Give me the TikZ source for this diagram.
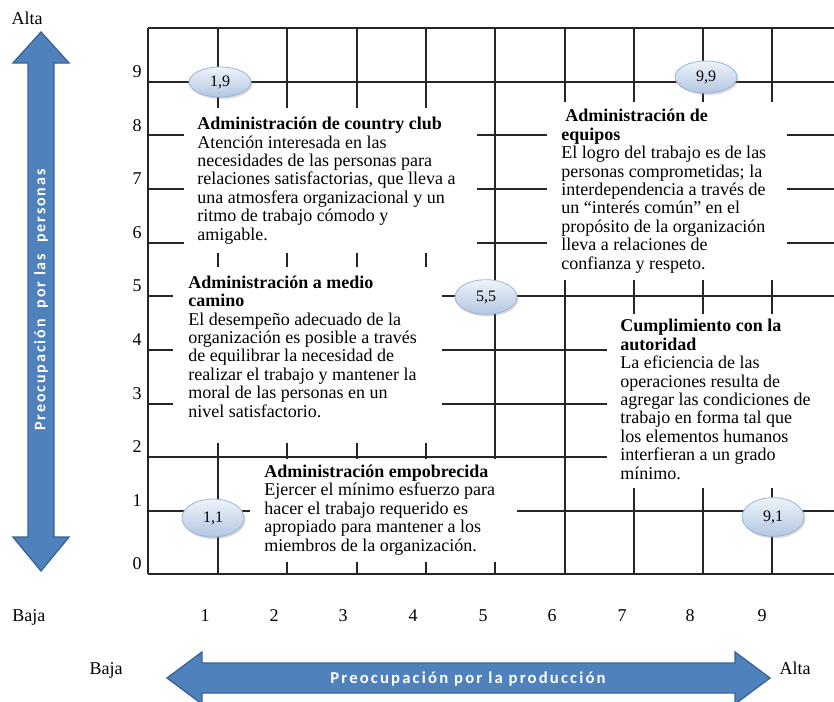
\documentclass[tikz,border=0pt]{standalone}
\usepackage{fontspec}
\setmainfont{Liberation Serif}
\newfontfamily\arrowfontH{Carlito}[LetterSpace=13]
\newfontfamily\arrowfontV{Carlito}[LetterSpace=12]
\usetikzlibrary{shadows,shapes.geometric}
\definecolor{arrowblue}{HTML}{4F81BD}
\definecolor{arrowedge}{HTML}{3A639A}
\definecolor{ellTop}{HTML}{EEF3F9}
\definecolor{ellBot}{HTML}{B3C7E1}
\definecolor{ellEdge}{HTML}{9AB4D6}
\begin{document}
\begin{tikzpicture}[x=0.75pt,y=-0.75pt,
  gridline/.style={line width=1pt, black!85},
  blank/.style={fill=white},
  txt/.style={anchor=base west, inner sep=0pt, align=left, font=\fontsize{13.5}{13.8}\selectfont},
  num/.style={anchor=base, inner sep=0pt, font=\fontsize{13.5}{14}\selectfont},
  pt/.style={ellipse, draw=ellEdge, line width=0.6pt, top color=ellTop, bottom color=ellBot,
    inner sep=0pt, minimum width=46.5pt, font=\fontsize{12}{12}\selectfont,
    drop shadow={opacity=0.3, shadow xshift=1pt, shadow yshift=-1.5pt}},
  bigarrow/.style={fill=arrowblue, draw=arrowedge, line width=1pt, line join=miter},
  arrowtxt/.style={text=white, inner sep=0pt}]
\useasboundingbox (0,0) rectangle (834,701);

% grid
\foreach \x in {148,218,287,357,426,495,565,634,703,772}
  \draw[gridline] (\x,28) -- (\x,574);
\foreach \y in {28,82,135,189,243,296,350,404,457,511,574}
  \draw[gridline] (148,\y) -- (834,\y);

% white text areas
\fill[blank] (184,108) rectangle (477,253);
\fill[blank] (173,267) rectangle (442,443);
\fill[blank] (547,102) rectangle (787,280);
\fill[blank] (607,314) rectangle (840,488);
\fill[blank] (250,458.5) rectangle (517,562);

% points
\node[pt, minimum height=22.5pt] (p19) at (220,82) {1,9};
\node[pt, minimum height=24pt] (p99) at (706,77) {9,9};
\node[pt, minimum height=26pt] (p55) at (486,297) {5,5};
\node[pt, minimum height=28.5pt] (p11) at (213,518) {1,1};
\node[pt, minimum height=29pt] (p91) at (773,517) {9,1};

% texts (anchored at the baseline of their last line)
\node[txt] (tcc) at (197,240) {\textbf{Administración de country club}\\
Atención interesada en las\\
necesidades de las personas para\\
relaciones satisfactorias, que lleva a\\
una atmosfera organizacional y un\\
ritmo de trabajo cómodo y\\
amigable.};

\node[txt] (tmc) at (188,417) {\textbf{Administración a medio}\\
\textbf{camino}\\
El desempeño adecuado de la\\
organización es posible a través\\
de equilibrar la necesidad de\\
realizar el trabajo y mantener la\\
moral de las personas en un\\
nivel satisfactorio.};

\node[txt] (teq) at (561,269) {\hspace{3pt}\textbf{Administración de}\\
\textbf{equipos}\\
El logro del trabajo es de las\\
personas comprometidas; la\\
interdependencia a través de\\
un “interés común” en el\\
propósito de la organización\\
lleva a relaciones de\\
confianza y respeto.};

\node[txt] (tca) at (620,479) {\textbf{Cumplimiento con la}\\
\textbf{autoridad}\\
La eficiencia de las\\
operaciones resulta de\\
agregar las condiciones de\\
trabajo en forma tal que\\
los elementos humanos\\
interfieran a un grado\\
mínimo.};

\node[txt] (tem) at (264,551) {\textbf{Administración empobrecida}\\
Ejercer el mínimo esfuerzo para\\
hacer el trabajo requerido es\\
apropiado para mantener a los\\
miembros de la organización.};

% axis numbers
\foreach \n/\y in {9/77,8/131,7/184,6/238,5/291,4/345,3/399,2/452,1/506,0/569}
  \node[num] (ly\n) at (137,\y) {\n};
\foreach \n/\x in {1/205,2/274,3/343,4/413,5/483,6/552,7/622,8/690,9/762}
  \node[num] (bx\n) at (\x,621) {\n};

\node[num] (altaTop) at (27,24) {Alta};
\node[num, anchor=base west] (bajaA) at (12,621) {Baja};
\node[num] (bajaB) at (106,674) {Baja};
\node[num] (altaR) at (795,674) {Alta};

% arrows
\draw[bigarrow] (41,32) -- (69,63) -- (54,63) -- (54,537) -- (69,537) -- (41,571)
  -- (13,537) -- (28,537) -- (28,63) -- (13,63) -- cycle;
\draw[bigarrow] (167,678) -- (202,652) -- (202,663) -- (735,663) -- (735,652) -- (770,678)
  -- (735,704) -- (735,693) -- (202,693) -- (202,704) -- cycle;

\node[arrowtxt, rotate=90, font=\arrowfontV\bfseries\fontsize{12}{12}\selectfont] (vtxt) at (41,300) {Preocupación\ \ por las\ \ personas};
\node[arrowtxt, font=\arrowfontH\bfseries\fontsize{12.5}{12.5}\selectfont] (htxt) at (468,679) {Preocupación por la producción};
\end{tikzpicture}
\end{document}
